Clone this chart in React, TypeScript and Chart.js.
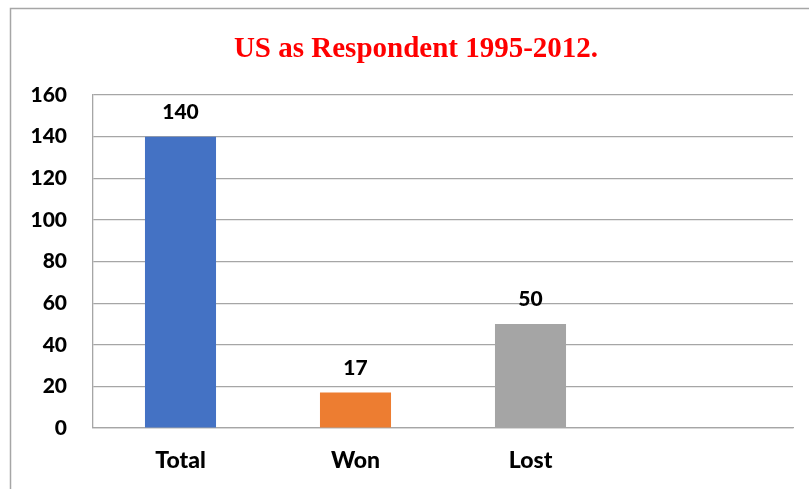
import React, { useEffect, useRef } from 'react';
import { Chart, registerables } from 'chart.js';

Chart.register(...registerables);

const categories = ['Total', 'Won', 'Lost', ''];
const values: (number | null)[] = [140, 17, 50, null];
const barColors = ['#4472C4', '#ED7D31', '#A5A5A5', '#A5A5A5'];
const yMin = 0;
const yMax = 160;
const yStep = 20;
const titleText = 'US as Respondent 1995-2012.';

const frameAndTitle = {
  id: 'frameAndTitle',
  beforeDraw(chart: any) {
    const ctx = chart.ctx;
    ctx.save();
    ctx.fillStyle = '#ffffff';
    ctx.fillRect(0, 0, chart.width, chart.height);
    ctx.strokeStyle = '#A6A6A6';
    ctx.lineWidth = 1.5;
    ctx.strokeRect(10.5, 8.5, 900, 600);
    ctx.fillStyle = '#FF0000';
    ctx.font = 'bold 29px "Liberation Serif", "Times New Roman", serif';
    ctx.textAlign = 'center';
    ctx.textBaseline = 'alphabetic';
    ctx.fillText(titleText, 416, 57);
    ctx.restore();
  },
};

const valueLabels = {
  id: 'valueLabels',
  afterDatasetsDraw(chart: any) {
    const ctx = chart.ctx;
    const meta = chart.getDatasetMeta(0);
    ctx.save();
    ctx.fillStyle = '#000000';
    ctx.font = '900 21px Lato, "Liberation Sans", sans-serif';
    ctx.textAlign = 'center';
    ctx.textBaseline = 'alphabetic';
    meta.data.forEach((bar: any, i: number) => {
      const v = values[i];
      if (v === null || v === undefined) return;
      ctx.fillText(String(v), bar.x, bar.y - 18);
    });
    ctx.restore();
  },
};

export default function App() {
  const canvasRef = useRef<HTMLCanvasElement | null>(null);

  useEffect(() => {
    if (!canvasRef.current) return;
    const chart = new Chart(canvasRef.current, {
      type: 'bar',
      data: {
        labels: categories,
        datasets: [
          {
            data: values,
            backgroundColor: barColors,
            borderWidth: 0,
            categoryPercentage: 1,
            barPercentage: 0.406,
          },
        ],
      },
      options: {
        responsive: false,
        animation: false,
        layout: { padding: { top: 95, right: 16, left: 0, bottom: 0 } },
        plugins: {
          legend: { display: false },
          title: { display: false },
          tooltip: { enabled: false },
        },
        scales: {
          x: {
            grid: { display: false, drawTicks: false },
            border: { display: true, color: '#A6A6A6', width: 1.3 },
            ticks: {
              color: '#000000',
              padding: 19,
              font: { family: 'Lato, "Liberation Sans", sans-serif', size: 23, weight: '900' },
            },
            afterFit: (scale: any) => {
              scale.height = 61;
            },
          },
          y: {
            min: yMin,
            max: yMax,
            grid: { color: '#A6A6A6', lineWidth: 1.2, drawTicks: false },
            border: { display: true, color: '#A6A6A6', width: 1.3 },
            ticks: {
              stepSize: yStep,
              color: '#000000',
              padding: 26,
              font: { family: 'Lato, "Liberation Sans", sans-serif', size: 21, weight: '900' },
            },
            afterFit: (scale: any) => {
              scale.width = 93;
            },
          },
        },
      },
      plugins: [frameAndTitle, valueLabels],
    });
    return () => chart.destroy();
  }, []);

  return (
    <div style={{ position: 'absolute', left: 0, top: 0, width: 809, height: 489, overflow: 'hidden' }}>
      <canvas ref={canvasRef} width={809} height={489} style={{ display: 'block' }} />
    </div>
  );
}
